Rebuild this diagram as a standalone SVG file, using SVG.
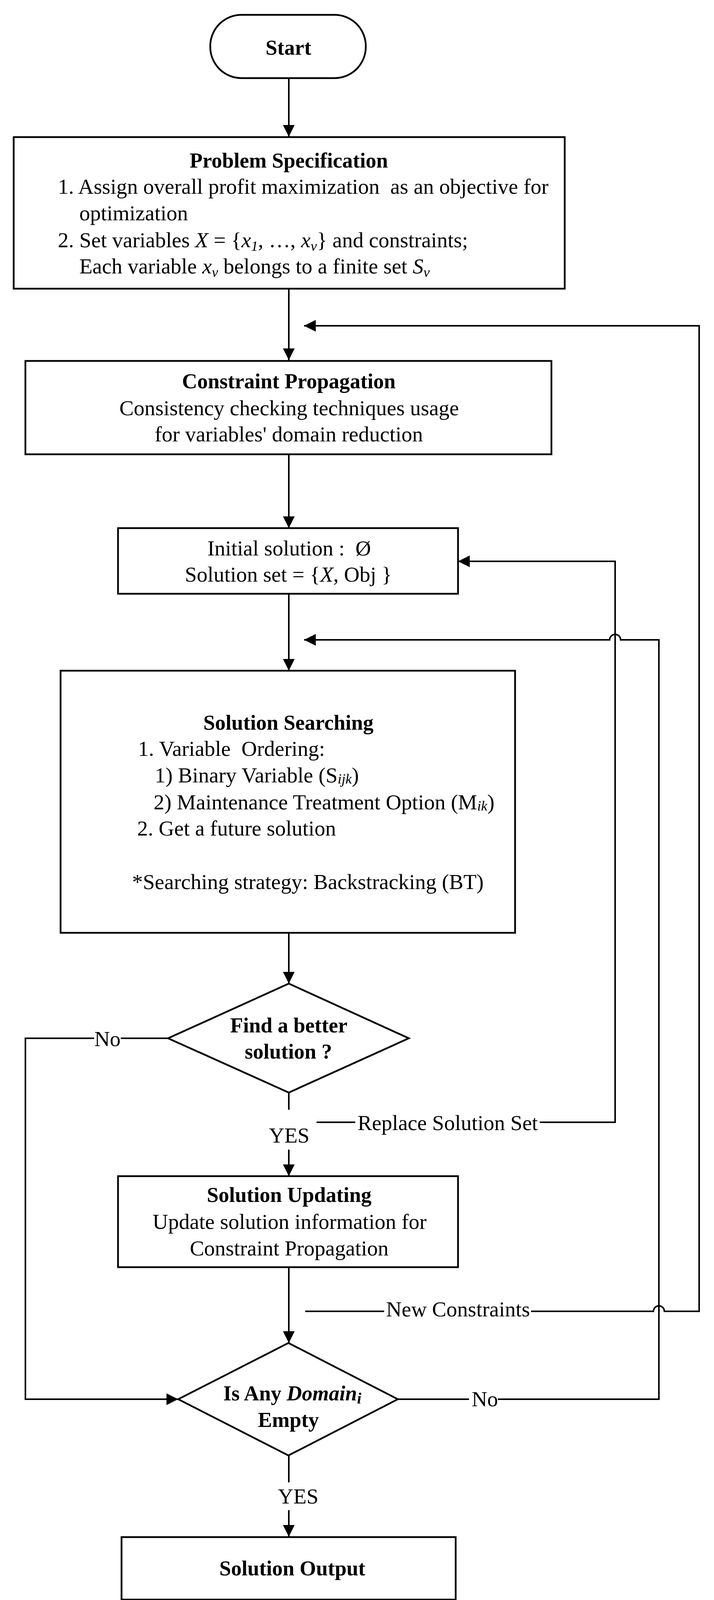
<svg xmlns="http://www.w3.org/2000/svg" width="1827" height="4441" viewBox="0 0 1827 4441">
<style>
.n{fill:#fff;stroke:#000;stroke-width:4.5}
.c{fill:none;stroke:#000;stroke-width:4}
text{font-family:"Liberation Serif","Times New Roman",serif;font-size:55px;fill:#000}
.b{font-weight:bold;font-size:54px}
.m{text-anchor:middle}
.i{font-style:italic}
.s{font-size:36px}
</style>
<defs>
<marker id="ah" markerUnits="userSpaceOnUse" markerWidth="30" markerHeight="30" refX="30" refY="15" orient="auto">
<path d="M0,0 L30,15 L0,30 Z" fill="#000"/>
</marker>
</defs>
<rect width="1827" height="4441" fill="#fff"/>
<g id="connectors">
<path class="c" d="M739,200 V350" marker-end="url(#ah)"/>
<path class="c" d="M739,739 V922" marker-end="url(#ah)"/>
<path class="c" d="M739,1163 V1352" marker-end="url(#ah)"/>
<path class="c" d="M739,1520 V1717" marker-end="url(#ah)"/>
<path class="c" d="M739,2388 V2518" marker-end="url(#ah)"/>
<path class="c" d="M430,2658 H309"/>
<path class="c" d="M241,2658 H65 V3582 H456" marker-end="url(#ah)"/>
<path class="c" d="M739,2797 V2841"/>
<path class="c" d="M739,2943 V3011" marker-end="url(#ah)"/>
<path class="c" d="M810,2873 H909"/>
<path class="c" d="M1381,2873 H1574 V1437 H1172" marker-end="url(#ah)"/>
<path class="c" d="M739,3244 V3438" marker-end="url(#ah)"/>
<path class="c" d="M781,3357 H983"/>
<path class="c" d="M1359,3357 H1672 A14,14 0 0 1 1700,3357 H1789 V834 H778" marker-end="url(#ah)"/>
<path class="c" d="M1018,3582 H1200"/>
<path class="c" d="M1274,3582 H1686 V1638 H1588 A14,14 0 0 0 1560,1638 H778" marker-end="url(#ah)"/>
<path class="c" d="M739,3726 V3795"/>
<path class="c" d="M739,3866 V3934" marker-end="url(#ah)"/>
<path class="c" d="M739,4095 V4242" marker-end="url(#ah)"/>
<text x="275" y="2678" class="m">No</text>
<text x="740" y="2925" class="m">YES</text>
<text x="915" y="2893">Replace Solution Set</text>
<text x="988" y="3370">New Constraints</text>
<text x="1207" y="3600">No</text>
<text x="763" y="3849" class="m">YES</text>
</g>
<g id="start">
<rect class="n" x="538" y="38" width="398" height="162" rx="80" ry="80"/>
<text x="738" y="140" class="b m">Start</text>
</g>
<g id="problem-specification">
<rect class="n" x="35" y="351" width="1410" height="388"/>
<text x="739" y="429" class="b m">Problem Specification</text>
<text x="148" y="496" xml:space="preserve">1. Assign overall profit maximization  as an objective for</text>
<text x="203" y="564">optimization</text>
<text x="148" y="633">2. Set variables <tspan class="i">X</tspan> = {<tspan class="i">x</tspan><tspan class="i s" dy="9">1</tspan><tspan dy="-9">, …, </tspan><tspan class="i">x</tspan><tspan class="i s" dy="9">v</tspan><tspan dy="-9">} and constraints;</tspan></text>
<text x="203" y="700">Each variable <tspan class="i">x</tspan><tspan class="i s" dy="9">v</tspan><tspan dy="-9"> belongs to a finite set </tspan><tspan class="i">S</tspan><tspan class="i s" dy="9">v</tspan></text>
</g>
<g id="constraint-propagation">
<rect class="n" x="65" y="924" width="1346" height="239"/>
<text x="739" y="994" class="b m">Constraint Propagation</text>
<text x="740" y="1063" class="m">Consistency checking techniques usage</text>
<text x="739" y="1130" class="m">for variables' domain reduction</text>
</g>
<g id="initial-solution">
<rect class="n" x="302" y="1352" width="870" height="168"/>
<text x="740" y="1422" class="m" xml:space="preserve">Initial solution :  Ø</text>
<text x="738" y="1489" class="m">Solution set = {<tspan class="i">X</tspan>, Obj }</text>
</g>
<g id="solution-searching">
<rect class="n" x="155" y="1717" width="1163" height="671"/>
<text x="738" y="1868" class="b m">Solution Searching</text>
<text x="353" y="1935" xml:space="preserve">1. Variable  Ordering:</text>
<text x="396" y="2003">1) Binary Variable (S<tspan class="i s" dy="3">ijk</tspan><tspan dy="-3">)</tspan></text>
<text x="393" y="2072">2) Maintenance Treatment Option (M<tspan class="i s" dy="3">ik</tspan><tspan dy="-3">)</tspan></text>
<text x="351" y="2139">2. Get a future solution</text>
<text x="338" y="2276">*Searching strategy: Backstracking (BT)</text>
</g>
<g id="find-better-solution">
<polygon class="n" points="739,2518 1046,2658 739,2797 430,2658"/>
<text x="739" y="2643" class="b m">Find a better</text>
<text x="738" y="2710" class="b m">solution ?</text>
</g>
<g id="solution-updating">
<rect class="n" x="302" y="3011" width="870" height="233"/>
<text x="740" y="3077" class="b m">Solution Updating</text>
<text x="741" y="3146" class="m">Update solution information for</text>
<text x="740" y="3214" class="m">Constraint Propagation</text>
</g>
<g id="domain-empty">
<polygon class="n" points="738,3438 1018,3582 738,3726 456,3582"/>
<text x="748" y="3585" class="b m">Is Any <tspan class="i">Domain</tspan><tspan class="i" font-size="40" dy="8">i</tspan></text>
<text x="738" y="3653" class="b m">Empty</text>
</g>
<g id="solution-output">
<rect class="n" x="311" y="3935" width="855" height="160"/>
<text x="748" y="4033" class="b m">Solution Output</text>
</g>
<g id="end">
<rect class="n" x="538" y="4242" width="401" height="163" rx="80" ry="80"/>
<text x="739" y="4342" class="b m">End</text>
</g>
</svg>
